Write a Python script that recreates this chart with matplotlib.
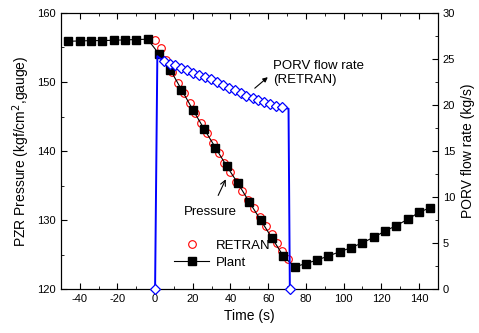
import matplotlib
matplotlib.use('Agg')
import matplotlib.pyplot as plt
from matplotlib.ticker import MultipleLocator

plt.rcParams['font.family'] = ['Liberation Sans', 'DejaVu Sans']
plt.rcParams['axes.unicode_minus'] = False

# plant pressure (kgf/cm2)
plant_t = [-46, -40, -34, -28, -22, -16, -10, -4, 2, 8, 14, 20, 26, 32, 38, 44, 50,
           56, 62, 68, 74, 80, 86, 92, 98, 104, 110, 116, 122, 128, 134, 140, 146]
plant_p = [155.9, 155.95, 156.0, 156.0, 156.05, 156.1, 156.15, 156.2, 154.1, 151.8,
           148.9, 146.0, 143.2, 140.5, 137.8, 135.3, 132.6, 130.0, 127.4, 124.8,
           123.2, 123.7, 124.2, 124.8, 125.4, 126.0, 126.7, 127.5, 128.4, 129.2,
           130.1, 131.1, 131.8]

# RETRAN pressure
retran_t = [0, 3, 6, 9, 12.3, 15.3, 18.4, 21.4, 24.5, 27.6, 30.8, 33.8, 36.8, 39.8,
            43.0, 46.2, 49.3, 52.4, 55.5, 58.6, 61.8, 64.8, 67.6, 70.6]
retran_p = [156.1, 154.9, 153.2, 151.5, 149.8, 148.4, 146.9, 145.5, 144.0, 142.6,
            141.1, 139.7, 138.3, 136.9, 135.5, 134.2, 132.9, 131.7, 130.4, 129.1,
            128.0, 126.7, 125.5, 124.4]

# RETRAN PORV flow (kg/s)
flow_t = [0, 1.2, 4.5, 7.7, 10.8, 14.0, 17.1, 20.3, 23.4, 26.5, 29.7, 32.8, 36.0,
          39.1, 42.3, 45.4, 48.5, 51.7, 54.8, 58.0, 61.1, 64.3, 67.4, 70.8, 71.5]
flow_q = [0, 25.3, 24.8, 24.5, 24.3, 24.0, 23.8, 23.5, 23.3, 23.0, 22.8, 22.5, 22.2,
          21.9, 21.6, 21.3, 21.0, 20.8, 20.5, 20.3, 20.1, 19.9, 19.75, 19.6, 0]

fig = plt.figure(figsize=(4.79, 3.33), dpi=100)
ax = fig.add_axes([0.127, 0.132, 0.787, 0.829])

ax.plot(retran_t, retran_p, 'o', mfc='none', mec='red', ms=5.5, mew=0.8, label='RETRAN')
ax.plot(plant_t, plant_p, '-s', color='black', lw=0.8, ms=5.5, label='Plant')

ax.set_xlim(-50, 150)
ax.set_ylim(120, 160)
ax.xaxis.set_major_locator(MultipleLocator(20))
ax.xaxis.set_minor_locator(MultipleLocator(10))
ax.yaxis.set_major_locator(MultipleLocator(10))
ax.yaxis.set_minor_locator(MultipleLocator(5))
ax.tick_params(which='both', direction='in', top=True, labelsize=8)
ax.tick_params(which='major', length=4)
ax.tick_params(which='minor', length=2)
ax.set_xlabel('Time (s)', fontsize=10)
ax.set_ylabel('PZR Pressure (kgf/cm$^2$,gauge)', fontsize=10)

ax.legend(loc='lower left', bbox_to_anchor=(0.27, 0.03), frameon=False,
          fontsize=9.5, handlelength=2.6, handletextpad=0.5, labelspacing=0.35)

ax.annotate('Pressure', xy=(37.5, 135.9), xytext=(29.4, 131.2), fontsize=9.5,
            ha='center', va='center',
            arrowprops=dict(arrowstyle='->', color='black', lw=0.8, shrinkA=6, shrinkB=0))
ax.text(62.8, 151.3, 'PORV flow rate\n(RETRAN)', fontsize=9.5, ha='left', va='center')
ax.annotate('', xy=(59.8, 150.7), xytext=(52.9, 149.1),
            arrowprops=dict(arrowstyle='-|>', color='black', lw=0.8,
                            mutation_scale=7, shrinkA=0, shrinkB=0))

ax2 = ax.twinx()
marks = [i for i in range(len(flow_t)) if i not in (1, 23)]
ax2.plot(flow_t, flow_q, '-D', color='blue', lw=1.4, ms=5, mfc='white',
         mec='blue', mew=0.9, markevery=marks, clip_on=False, zorder=3)
ax2.set_ylim(0, 30)
ax2.yaxis.set_major_locator(MultipleLocator(5))
ax2.yaxis.set_minor_locator(MultipleLocator(2.5))
ax2.tick_params(which='both', direction='in', labelsize=8)
ax2.tick_params(which='major', length=4)
ax2.tick_params(which='minor', length=2)
ax2.set_ylabel('PORV flow rate (kg/s)', fontsize=10)

fig.savefig('out.png', dpi=100)
